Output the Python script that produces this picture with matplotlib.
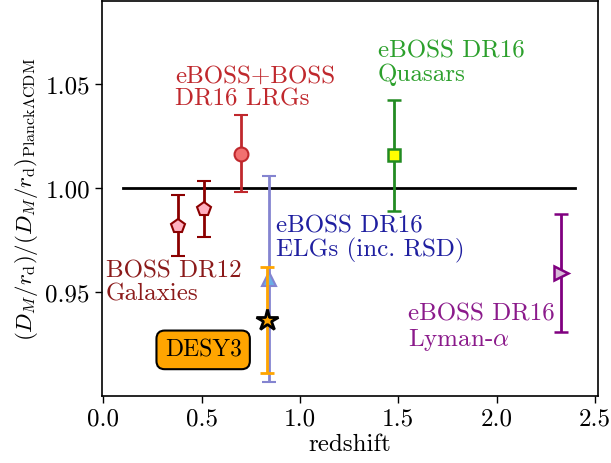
import matplotlib
matplotlib.use("Agg")
import matplotlib.pyplot as plt

plt.rcParams['font.family'] = 'serif'
plt.rcParams['font.serif'] = ['cmr10', 'DejaVu Serif']
plt.rcParams['mathtext.fontset'] = 'cm'
plt.rcParams['axes.formatter.use_mathtext'] = True
plt.rcParams['font.size'] = 18

# data
boss_z = [0.38, 0.51]
boss_y = [0.982, 0.990]
boss_err = [0.0145, 0.0135]

lrg_z = [0.70]
lrg_y = [1.0165]
lrg_err = [0.0185]

elg_z = [0.845]
elg_y = [0.9565]
elg_err = [0.0493]

des_z = [0.835]
des_y = [0.9368]
des_err = [0.0256]

qso_z = [1.48]
qso_y = [1.0157]
qso_err = [0.0267]

lya_z = [2.33]
lya_y = [0.9592]
lya_err = [0.0282]

ref_x = [0.1, 2.4]
ref_y = [1.0, 1.0]

fig = plt.figure(figsize=(6.11, 4.64), dpi=100)
ax = fig.add_axes([101.7/611, 1-396.7/464, (598-101.7)/611, (396.7-1.5)/464])

ax.plot(ref_x, ref_y, color='black', lw=2, zorder=1)

cap = 5
el = 2
ax.errorbar(boss_z, boss_y, yerr=boss_err, fmt='p', color='#8b0000', mfc='#ffb0c0',
            mec='#8b0000', ms=10, mew=1.5, elinewidth=el, capsize=cap, capthick=el, zorder=3)
ax.errorbar(lrg_z, lrg_y, yerr=lrg_err, fmt='o', color='#c0282d', mfc='#f27070',
            mec='#c0282d', ms=10, mew=1.5, elinewidth=el, capsize=cap, capthick=el, zorder=3)
ax.errorbar(elg_z, elg_y, yerr=elg_err, fmt='^', color='#8484d0', mfc='#6aaee6',
            mec='#8484d0', ms=10, mew=1.5, elinewidth=el, capsize=cap, capthick=el, zorder=3)
ax.errorbar(des_z, des_y, yerr=des_err, fmt='none', color='orange',
            elinewidth=el, capsize=cap, capthick=el, zorder=4)
ax.plot(des_z, des_y, marker='*', ls='none', ms=16, mfc='orange', mec='black', mew=2, zorder=5)
ax.errorbar(qso_z, qso_y, yerr=qso_err, fmt='s', color='#228b22', mfc='yellow',
            mec='#228b22', ms=9, mew=1.8, elinewidth=el, capsize=cap, capthick=el, zorder=3)
ax.errorbar(lya_z, lya_y, yerr=lya_err, fmt='>', color='#800080', mfc='#d8b8d8',
            mec='#800080', ms=10, mew=1.8, elinewidth=el, capsize=cap, capthick=el, zorder=3)

fs = 18
ls = 1.05
ax.text(0.014, 0.955, 'BOSS DR12\nGalaxies', color='#8b1a1a', ha='left', va='center',
        fontsize=fs, linespacing=ls)
ax.text(0.365, 1.0486, 'eBOSS+BOSS\nDR16 LRGs', color='#c0282d', ha='left', va='center',
        fontsize=fs, linespacing=ls)
ax.text(1.397, 1.0606, 'eBOSS DR16\nQuasars', color='#2ca02c', ha='left', va='center',
        fontsize=fs, linespacing=ls)
ax.text(0.878, 0.976, 'eBOSS DR16\nELGs (inc. RSD)', color='#1f1fa0', ha='left', va='center',
        fontsize=fs, linespacing=ls)
ax.text(1.55, 0.9332, 'eBOSS DR16\nLyman-$\\alpha$', color='#8b1a8b', ha='left', va='center',
        fontsize=fs, linespacing=ls)
ax.text(0.508, 0.9224, 'DESY3', color='black', ha='center', va='center', fontsize=17,
        bbox=dict(boxstyle='round,pad=0.35', fc='orange', ec='black', lw=1.5))

ax.set_xlim(-0.008, 2.516)
ax.set_ylim(0.9004, 1.0901)
ax.set_xticks([0.0, 0.5, 1.0, 1.5, 2.0, 2.5])
ax.set_yticks([0.95, 1.00, 1.05])
ax.set_xticklabels(['0.0', '0.5', '1.0', '1.5', '2.0', '2.5'])
ax.set_yticklabels(['0.95', '1.00', '1.05'])
ax.tick_params(labelsize=18, length=5, width=1)
ax.set_xlabel('redshift', fontsize=18, labelpad=2)
ax.set_ylabel(r'$(D_M/r_{\rm d})/(D_M/r_{\rm d})_{{\rm Planck}\Lambda{\rm CDM}}$', fontsize=16.5)
for s in ax.spines.values():
    s.set_linewidth(1.2)

fig.savefig('out.png', dpi=100)
